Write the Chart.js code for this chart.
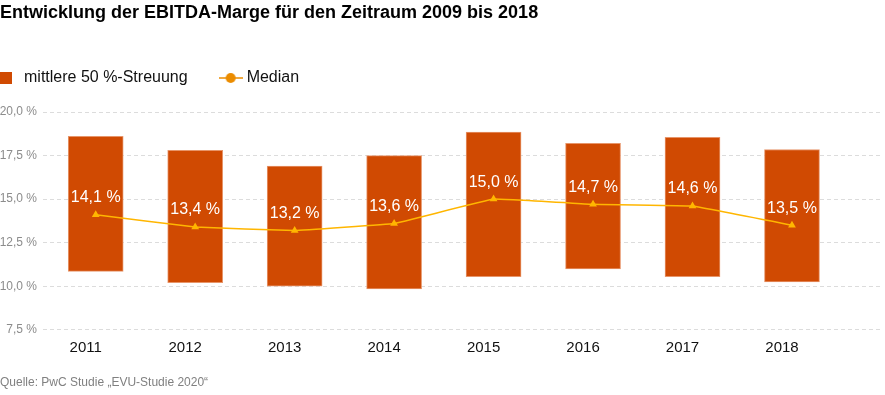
<!DOCTYPE html>
<html lang="de">
<head>
<meta charset="utf-8">
<title>EBITDA-Marge 2009 bis 2018</title>
<script src="https://cdn.jsdelivr.net/npm/chart.js@4/dist/chart.umd.min.js"></script>
<style>
    html, body { margin: 0; padding: 0; background: #fff; }
    #grafico { display: block; }
</style>
</head>
<body>
<canvas id="grafico" width="885" height="395"></canvas>
<script>
// Daten
const jahre = ["2011", "2012", "2013", "2014", "2015", "2016", "2017", "2018"];
const streuungUnten = [10.85, 10.2, 10.0, 9.85, 10.55, 11.0, 10.55, 10.25];
const streuungOben = [18.6, 17.8, 16.9, 17.5, 18.85, 18.2, 18.55, 17.85];
const median = [14.1, 13.4, 13.2, 13.6, 15.0, 14.7, 14.6, 13.5];
const yTicks = [7.5, 10, 12.5, 15, 17.5, 20];

const orange = "#d04a02";
const gelb = "#ffb600";
const legendOrange = "#eb8c00";
const schrift = "'Liberation Sans', Arial, Helvetica, sans-serif";
const legendPadding = 35;

function prozent(v, stellen) {
    return v.toLocaleString("de-DE", { minimumFractionDigits: stellen, maximumFractionDigits: stellen }) + " %";
}

// Legendensymbole
function symbolQuadrat() {
    const c = document.createElement("canvas");
    c.width = 16; c.height = 12;
    const ctx = c.getContext("2d");
    ctx.fillStyle = orange;
    ctx.fillRect(0, 0, 12, 12);
    return c;
}

function symbolLinie() {
    const c = document.createElement("canvas");
    c.width = 24; c.height = 12;
    const ctx = c.getContext("2d");
    ctx.strokeStyle = legendOrange;
    ctx.lineWidth = 1.5;
    ctx.beginPath();
    ctx.moveTo(0, 6);
    ctx.lineTo(24, 6);
    ctx.stroke();
    ctx.fillStyle = legendOrange;
    ctx.beginPath();
    ctx.arc(12, 6, 5, 0, Math.PI * 2);
    ctx.fill();
    return c;
}

// Werte über den Medianpunkten
const medianLabels = {
    id: "medianLabels",
    afterDatasetsDraw(chart) {
        const meta = chart.getDatasetMeta(1);
        const ctx = chart.ctx;
        ctx.save();
        ctx.font = "16px " + schrift;
        ctx.fillStyle = "#ffffff";
        ctx.textAlign = "center";
        ctx.textBaseline = "middle";
        meta.data.forEach((punkt, i) => {
            ctx.fillText(prozent(median[i], 1), punkt.x, punkt.y - 17);
        });
        ctx.restore();
    }
};

// Legende bündig links setzen
const legendePosition = {
    id: "legendePosition",
    afterLayout(chart) {
        chart.legend.left = -legendPadding;
        chart.legend.top = 78 - 8 - legendPadding;
    }
};

const ctx = document.getElementById("grafico").getContext("2d");
new Chart(ctx, {
    data: {
        datasets: [
            {
                type: "bar",
                label: "mittlere 50 %-Streuung",
                data: jahre.map((j, i) => ({ x: i, y: [streuungUnten[i], streuungOben[i]] })),
                backgroundColor: orange,
                borderColor: "#e7956a",
                borderWidth: 1,
                borderSkipped: false,
                barThickness: 55,
                order: 1
            },
            {
                type: "line",
                label: "Median",
                data: jahre.map((j, i) => ({ x: i, y: median[i] })),
                borderColor: gelb,
                borderWidth: 1.5,
                backgroundColor: gelb,
                pointStyle: "triangle",
                pointRadius: 4.5,
                pointBackgroundColor: gelb,
                pointBorderWidth: 0,
                tension: 0.05,
                order: 0
            }
        ]
    },
    options: {
        responsive: false,
        animation: false,
        devicePixelRatio: 1,
        layout: { padding: 0 },
        plugins: {
            title: {
                display: true,
                text: "Entwicklung der EBITDA-Marge für den Zeitraum 2009 bis 2018",
                align: "start",
                color: "#000",
                font: { family: schrift, size: 18, weight: "bold" },
                padding: { top: 2, bottom: 27.4 }
            },
            subtitle: {
                display: true,
                position: "bottom",
                text: "Quelle: PwC Studie „EVU-Studie 2020“",
                align: "start",
                color: "#808080",
                font: { family: schrift, size: 12 },
                padding: { top: 10, bottom: 4.8 }
            },
            legend: {
                display: true,
                position: "top",
                align: "start",
                labels: {
                    usePointStyle: true,
                    pointStyleWidth: 16,
                    padding: legendPadding,
                    color: "#111",
                    font: { family: schrift, size: 16 },
                    generateLabels() {
                        return [
                            { text: "mittlere 50 %-Streuung", pointStyle: symbolQuadrat(), fontColor: "#111", datasetIndex: 0, lineWidth: 0 },
                            { text: "Median", pointStyle: symbolLinie(), fontColor: "#111", datasetIndex: 1, lineWidth: 0 }
                        ];
                    }
                }
            },
            tooltip: { enabled: false }
        },
        scales: {
            x: {
                type: "linear",
                offset: false,
                min: -0.53,
                max: 7.89,
                grid: { display: false, drawTicks: false },
                border: { display: false },
                ticks: {
                    stepSize: 1,
                    includeBounds: false,
                    autoSkip: false,
                    maxRotation: 0,
                    padding: 9,
                    labelOffset: -10,
                    color: "#111",
                    font: { family: schrift, size: 15 },
                    callback: (v) => Number.isInteger(v) && jahre[v] ? jahre[v] : ""
                }
            },
            y: {
                min: 7.5,
                max: 20,
                afterFit(scale) { scale.width = 43; },
                afterBuildTicks(scale) { scale.ticks = yTicks.map(v => ({ value: v })); },
                grid: { color: "#dcdcdc", lineWidth: 1, drawTicks: false },
                border: { display: false, dash: [4, 3] },
                ticks: {
                    padding: 6,
                    color: "#8c8c8c",
                    font: { family: schrift, size: 12 },
                    callback: (v) => prozent(v, 1)
                }
            }
        }
    },
    plugins: [medianLabels, legendePosition]
});
</script>
</body>
</html>
